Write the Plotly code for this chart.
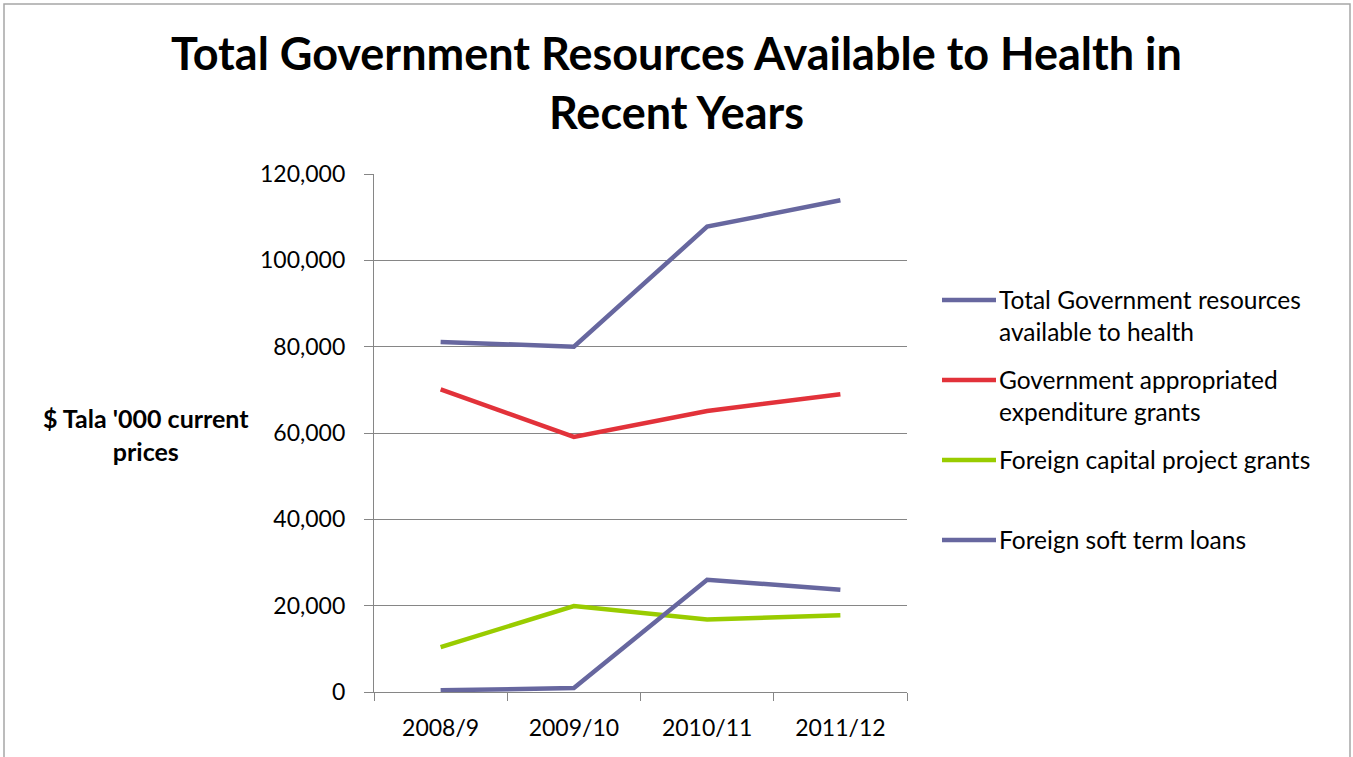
import plotly.graph_objects as go

# Fiscal years on the category axis
years = ["2008/9", "2009/10", "2010/11", "2011/12"]

# $ Tala '000, current prices
total_resources = [81100, 80000, 107800, 113900]
approp_grants = [70100, 59100, 65100, 69000]
capital_grants = [10400, 19900, 16800, 17800]
soft_loans = [400, 900, 26000, 23700]

series_names = [
    "Total Government resources<br>available to health",
    "Government appropriated<br>expenditure grants",
    "Foreign capital project grants",
    "Foreign soft term loans",
]
series_values = [total_resources, approp_grants, capital_grants, soft_loans]
series_colors = ["#67679F", "#E2323A", "#99CC00", "#67679F"]

y_ticks = [0, 20000, 40000, 60000, 80000, 100000, 120000]

W, H = 1353, 757
L, R, T, B = 374, 907, 174, 692
FONT = "Lato"


def px_x(x):
    return (x - L) / (R - L)


def px_y(y):
    return (B - y) / (B - T)


fig = go.Figure()
for name, vals, col in zip(series_names, series_values, series_colors):
    fig.add_trace(go.Scatter(
        x=years, y=vals, mode="lines", name=name,
        line=dict(color=col, width=4.5), showlegend=False,
    ))

shapes = [
    # outer chart frame
    dict(type="rect", xref="paper", yref="paper",
         x0=px_x(4), x1=px_x(1350), y0=px_y(800), y1=px_y(4),
         line=dict(color="#A6A6A6", width=1.5), layer="below"),
]
annotations = [
    dict(text="<b>$ Tala '000 current<br>prices</b>", xref="paper", yref="paper",
         x=px_x(146), y=px_y(434), xanchor="center", yanchor="middle",
         showarrow=False, font=dict(family=FONT, size=25, color="#000000")),
]

# legend drawn as swatch lines with labels beside them
legend_rows = [300, 380, 460, 540]
for name, col, yrow in zip(series_names, series_colors, legend_rows):
    nlines = name.count("<br>") + 1
    shapes.append(dict(type="line", xref="paper", yref="paper",
                       x0=px_x(942), x1=px_x(996), y0=px_y(yrow), y1=px_y(yrow),
                       line=dict(color=col, width=4.5)))
    annotations.append(dict(text=name, xref="paper", yref="paper",
                            x=px_x(997), y=px_y(yrow - 1 + (nlines - 1) * 16),
                            xanchor="left", yanchor="middle",
                            align="left", showarrow=False,
                            font=dict(family=FONT, size=24.5, color="#000000")))

fig.update_layout(
    width=W, height=H,
    margin=dict(l=L, r=W - R, t=T, b=H - B),
    paper_bgcolor="white", plot_bgcolor="white",
    title=dict(text="<b>Total Government Resources Available to Health in<br>Recent Years</b>",
               x=0.5, xanchor="center", y=1 - 70 / H, yanchor="middle",
               font=dict(family=FONT, size=45, color="#000000")),
    xaxis=dict(type="category", range=[-0.5, 3.5], tickson="boundaries",
               ticks="outside", ticklen=8, tickcolor="#868686",
               ticklabelstandoff=15,
               showline=True, linecolor="#868686", linewidth=1.3,
               showgrid=False, tickfont=dict(family=FONT, size=23, color="#000000")),
    yaxis=dict(range=[0, 120000], tickvals=y_ticks, tickformat=",d",
               ticks="outside", ticklen=9, tickcolor="#868686",
               ticklabelstandoff=14,
               showline=True, linecolor="#868686", linewidth=1.3,
               showgrid=True, gridcolor="#868686", gridwidth=1,
               zeroline=False,
               tickfont=dict(family=FONT, size=23, color="#000000")),
    shapes=shapes,
    annotations=annotations,
)

fig.write_html("out.html")
